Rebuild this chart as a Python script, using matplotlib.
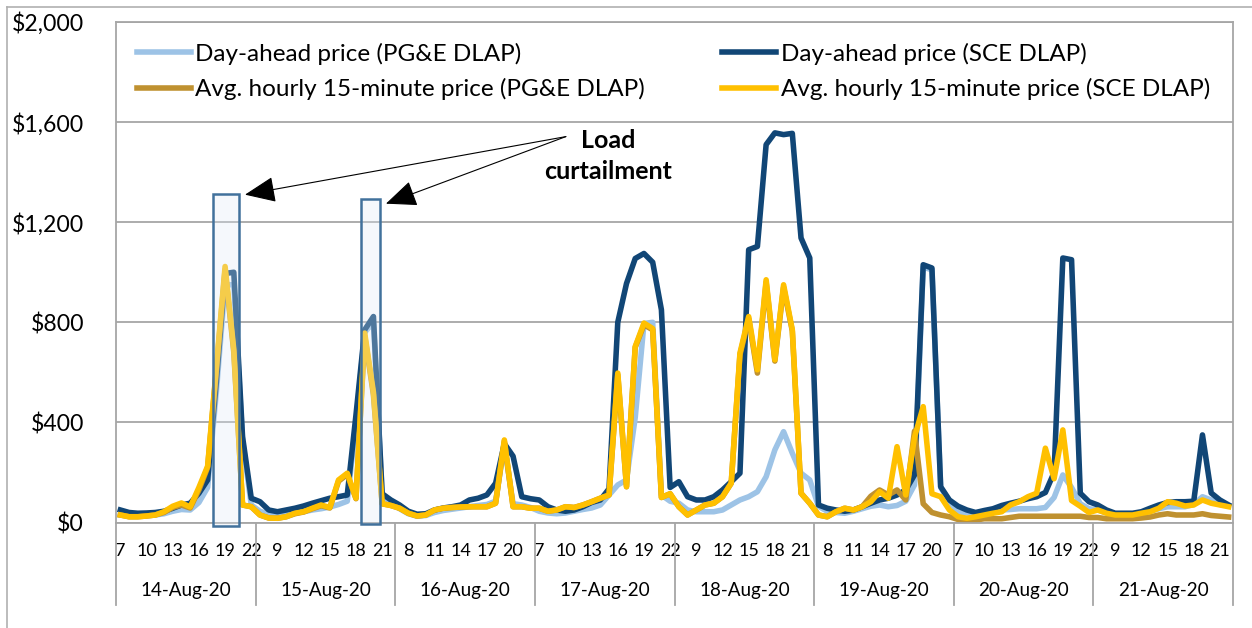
import numpy as np
import matplotlib.pyplot as plt
import matplotlib.transforms as mtransforms
from matplotlib.lines import Line2D
from matplotlib.patches import Rectangle

plt.rcParams['font.family'] = ['Lato', 'DejaVu Sans']

# hourly prices, hours 7-22 of each day
dates = ['14-Aug-20', '15-Aug-20', '16-Aug-20', '17-Aug-20',
         '18-Aug-20', '19-Aug-20', '20-Aug-20', '21-Aug-20']
hours = [7, 8, 9, 10, 11, 12, 13, 14, 15, 16, 17, 18, 19, 20, 21, 22]

pge_da = [
    30, 28, 27, 28, 30, 35, 45, 52, 50, 80, 140, 520, 950, 950, 330, 70,
    45, 33, 28, 32, 38, 43, 50, 55, 62, 72, 85, 400, 760, 800, 110, 80,
    55, 35, 25, 28, 40, 48, 53, 58, 63, 68, 72, 85, 310, 75, 70, 60,
    45, 38, 35, 38, 45, 52, 58, 70, 110, 150, 170, 420, 795, 800, 110, 85,
    77, 50, 43, 43, 43, 50, 70, 90, 103, 123, 183, 290, 363, 277, 197, 170,
    65, 45, 40, 37, 45, 55, 65, 70, 63, 68, 85, 150, 1020, 1010, 140, 85,
    40, 38, 38, 40, 45, 50, 52, 55, 55, 55, 60, 100, 190, 140, 75, 55,
    50, 38, 32, 32, 32, 38, 45, 55, 63, 63, 63, 72, 103, 90, 72, 68,
]
sce_da = [
    50, 40, 37, 38, 40, 45, 57, 70, 77, 117, 170, 560, 995, 1000, 343, 97,
    83, 50, 43, 50, 57, 66, 77, 87, 97, 103, 110, 430, 770, 823, 115, 90,
    70, 45, 33, 35, 50, 58, 63, 70, 90, 97, 110, 157, 315, 265, 103, 95,
    90, 63, 50, 45, 50, 63, 80, 90, 135, 800, 955, 1055, 1075, 1040, 850, 140,
    163, 103, 90, 90, 103, 130, 163, 197, 1090, 1103, 1510, 1557, 1550, 1555, 1137, 1057,
    70, 57, 50, 45, 50, 63, 77, 90, 97, 110, 130, 190, 1030, 1017, 143, 90,
    65, 50, 40, 48, 55, 68, 77, 85, 95, 103, 120, 200, 1057, 1050, 117, 83,
    70, 50, 37, 37, 37, 43, 57, 70, 80, 83, 83, 85, 350, 118, 90, 70,
]
pge_15 = [
    30, 23, 23, 26, 30, 40, 60, 70, 58, 130, 220, 610, 1010, 680, 70, 63,
    30, 18, 17, 23, 35, 42, 55, 67, 58, 165, 192, 95, 745, 510, 75, 68,
    57, 37, 26, 30, 50, 57, 60, 62, 63, 63, 63, 77, 325, 63, 63, 57,
    57, 45, 50, 63, 60, 70, 83, 97, 110, 590, 143, 700, 790, 770, 100, 115,
    63, 30, 50, 70, 77, 103, 157, 670, 815, 597, 960, 645, 940, 765, 117, 77,
    30, 23, 43, 57, 50, 63, 105, 130, 110, 130, 90, 365, 75, 40, 30, 23,
    12, 10, 10, 15, 15, 15, 20, 25, 25, 25, 25, 25, 25, 25, 25, 20,
    20, 15, 15, 15, 15, 18, 22, 30, 35, 30, 30, 30, 35, 28, 25, 22,
]
sce_15 = [
    30, 23, 23, 26, 30, 43, 65, 78, 62, 140, 225, 620, 1023, 690, 70, 63,
    30, 18, 17, 23, 37, 43, 57, 70, 60, 170, 197, 97, 757, 520, 75, 68,
    57, 37, 26, 30, 50, 57, 60, 62, 63, 63, 63, 77, 330, 63, 63, 57,
    57, 45, 50, 63, 60, 70, 83, 97, 110, 597, 143, 703, 797, 775, 100, 115,
    63, 30, 50, 70, 77, 103, 157, 677, 823, 610, 970, 650, 950, 770, 117, 77,
    30, 23, 43, 57, 50, 63, 83, 123, 97, 303, 110, 340, 463, 115, 103, 50,
    23, 17, 23, 30, 37, 43, 70, 83, 103, 117, 297, 175, 370, 88, 65, 40,
    50, 37, 30, 30, 30, 37, 43, 57, 83, 77, 66, 70, 90, 77, 70, 63,
]

x = np.arange(len(sce_da))
n_h = len(hours)
gray = '#a6a6a6'

fig = plt.figure(figsize=(12.52, 6.28), dpi=100)
ax = fig.add_axes([116 / 1252, 1 - 522.5 / 628, 1117 / 1252, 500.5 / 628])

lw = 4.0
l1, = ax.plot(x, pge_da, color='#9dc3e6', lw=lw, solid_joinstyle='round')
l2, = ax.plot(x, sce_da, color='#114676', lw=lw, solid_joinstyle='round')
l3, = ax.plot(x, pge_15, color='#bf9130', lw=lw, solid_joinstyle='round')
l4, = ax.plot(x, sce_15, color='#ffc000', lw=lw, solid_joinstyle='round')

ax.set_xlim(-0.5, len(x) - 0.5)
ax.set_ylim(0, 2000)
ax.set_yticks(range(0, 2001, 400))
ax.set_yticklabels(['${:,}'.format(v) for v in range(0, 2001, 400)])
ax.yaxis.grid(True, color=gray, lw=1.3)
ax.set_axisbelow(True)
for s in ax.spines.values():
    s.set_color(gray)
    s.set_linewidth(1.3)
ax.tick_params(axis='y', length=0, pad=23, labelsize=16.6)

ax.set_xticks(x[::3])
ax.set_xticklabels([str(hours[i % n_h]) for i in x[::3]])
ax.tick_params(axis='x', length=0, pad=15, labelsize=13)

trans = mtransforms.blended_transform_factory(ax.transData, ax.transAxes)
for k in range(len(dates) + 1):
    ax.plot([k * n_h - 0.5] * 2, [0, -0.165], transform=trans, color=gray,
            lw=1.3, clip_on=False)
for k, d in enumerate(dates):
    ax.text(k * n_h + (n_h - 1) / 2, -0.135, d, transform=trans, ha='center',
            va='center', fontsize=13.6)

# load curtailment boxes
box_kw = dict(facecolor=(0.87, 0.92, 0.97, 0.3), edgecolor='#41719c', lw=1.8,
              clip_on=False, zorder=5)
ax.add_patch(Rectangle((10.6, -14), 3.0, 1328, **box_kw))
ax.add_patch(Rectangle((27.56, -6), 2.18, 1300, **box_kw))

ax.text(55.85, 1465, 'Load\ncurtailment', ha='center', va='center',
        fontsize=18, fontweight='bold', linespacing=1.45)
arrow = dict(arrowstyle='-|>,head_length=0.97,head_width=0.41', mutation_scale=20,
             lw=0.8, color='black', shrinkA=0, shrinkB=0)
ax.annotate('', xy=(14.28, 1310), xytext=(51.05, 1542), arrowprops=arrow)
ax.annotate('', xy=(30.43, 1274), xytext=(51.05, 1542), arrowprops=arrow)

ax.legend([l1, l3, l2, l4],
          ['Day-ahead price (PG&E DLAP)', 'Avg. hourly 15-minute price (PG&E DLAP)',
           'Day-ahead price (SCE DLAP)', 'Avg. hourly 15-minute price (SCE DLAP)'],
          ncol=2, loc='upper left', bbox_to_anchor=(0.0, 1.0), frameon=False,
          fontsize=17.5, handlelength=2.22, handletextpad=0.2, columnspacing=3.17,
          labelspacing=0.55, borderaxespad=0.45)

# outer chart border
fig.add_artist(Line2D([7 / 1252] * 2, [0, 1 - 7 / 628], color='#b0b0b0', lw=1.2))
fig.add_artist(Line2D([7 / 1252, 1], [1 - 7 / 628] * 2, color='#b0b0b0', lw=1.2))

fig.savefig('out.png', dpi=100)
